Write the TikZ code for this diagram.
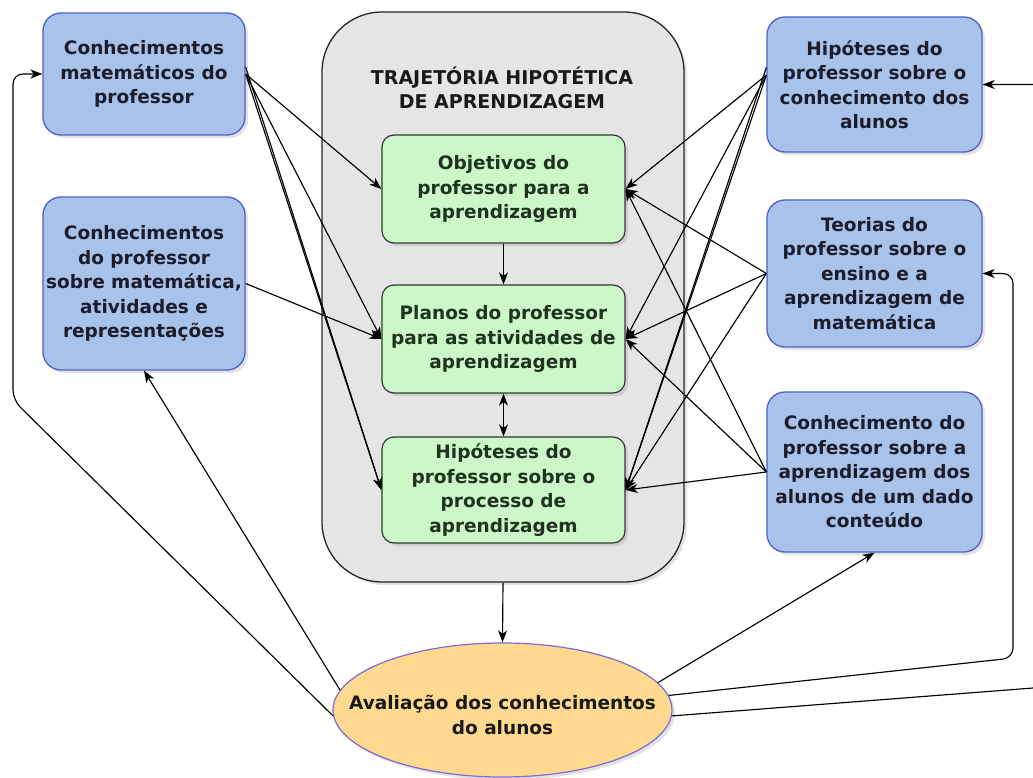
\documentclass[tikz,border=0pt]{standalone}
\usepackage{fontspec}
\setmainfont{DejaVu Sans}
\usetikzlibrary{arrows.meta,shapes.geometric,shadows,calc}
\definecolor{bluefill}{HTML}{A9C2EA}
\definecolor{bluedraw}{HTML}{4F5FCB}
\definecolor{bluetext}{HTML}{1C1C2C}
\definecolor{greenfill}{HTML}{CCF7C8}
\definecolor{greendraw}{HTML}{2E3A2E}
\definecolor{greentext}{HTML}{1F331F}
\definecolor{contfill}{HTML}{E5E5E5}
\definecolor{ellfill}{HTML}{FFD98F}
\definecolor{elldraw}{HTML}{7E6AD0}
\tikzset{ctip/.tip={Stealth[length=12pt,width=9pt,inset=3.5pt]}}
\begin{document}
\begin{tikzpicture}[x=1pt,y=-1pt,
  txt/.style={font=\fontsize{18.5}{24.5}\selectfont\bfseries, align=center, inner sep=0pt},
  shade/.style={drop shadow={shadow xshift=3pt,shadow yshift=-3pt,opacity=0.22}},
  bluebox/.style={txt, shade, draw=bluedraw, fill=bluefill, line width=1.3pt, rounded corners=18pt, text=bluetext},
  greenbox/.style={txt, shade, draw=greendraw, fill=greenfill, line width=1.2pt, rounded corners=12pt, text=greentext, minimum width=243, minimum height=108},
  contbox/.style={shade, draw=black!85, fill=contfill, line width=1.3pt, rounded corners=60pt, inner sep=0pt},
  ellbox/.style={shade, ellipse, inner sep=0pt, draw=elldraw, fill=ellfill, line width=1.2pt},
  elltext/.style={txt, text=black!90, yshift=-5pt},
  titletxt/.style={font=\fontsize{19}{23.5}\selectfont\bfseries, align=center, inner sep=0pt, text=black!90},
  conn/.style={draw=black, line width=1.15pt, -{ctip}},
]
\useasboundingbox (0,0) rectangle (1033,778);
\fill[white] (0,0) rectangle (1033,778);
\clip (0,0) rectangle (1033,778);

% container
\node[contbox, minimum width=362, minimum height=570] (cont) at (503,297) {};
\node[titletxt] (ttl) at (502,88) {TRAJETÓRIA HIPOTÉTICA\\DE APRENDIZAGEM};

% green boxes
\node[greenbox] (ob) at (503.5,189) {Objetivos do\\professor para a\\aprendizagem};
\node[greenbox] (pl) at (503.5,339) {Planos do professor\\para as atividades de\\aprendizagem};
\node[greenbox, minimum height=106] (hy) at (503.5,490) {Hipóteses do\\professor sobre o\\processo de\\aprendizagem};

% blue boxes left
\node[bluebox, minimum width=202, minimum height=122] (tl) at (144,74) {Conhecimentos\\matemáticos do\\professor};
\node[bluebox, minimum width=202, minimum height=173] (lm) at (144,283.5) {Conhecimentos\\do professor\\sobre matemática,\\atividades e\\representações};

% blue boxes right
\node[bluebox, minimum width=215, minimum height=135] (tr) at (874.5,84.5) {Hipóteses do\\professor sobre o\\conhecimento dos\\alunos};
\node[bluebox, minimum width=215, minimum height=147] (te) at (874.5,273.5) {Teorias do\\professor sobre o\\ensino e a\\aprendizagem de\\matemática};
\node[bluebox, minimum width=215, minimum height=160] (cn) at (874.5,472) {Conhecimento do\\professor sobre a\\aprendizagem dos\\alunos de um dado\\conteúdo};

% ellipse
\node[ellbox, minimum width=339, minimum height=134,
      label={[elltext]center:Avaliação dos conhecimentos\\do alunos}] (ell) at (502.5,710) {};

% left connectors
\draw[conn] (tl.east) -- (ob.west);
\draw[conn] (tl.east) -- (pl.west);
\draw[conn] (tl.east) -- (hy.west);
\draw[conn] (tl.4) -- (hy.west);
\draw[conn] (lm.east) -- (pl.west);

% right connectors
\draw[conn] (tr.175) -- (ob.east);
\draw[conn] (tr.175) -- (pl.east);
\draw[conn] (tr.175) -- (hy.east);
\draw[conn] (tr.171) -- (hy.east);
\draw[conn] (te.west) -- (ob.east);
\draw[conn] (te.west) -- (pl.east);
\draw[conn] (te.west) -- (hy.east);
\draw[conn] (cn.west) -- (ob.east);
\draw[conn] (cn.west) -- (pl.east);
\draw[conn] (cn.west) -- (hy.east);

% inner connectors
\draw[conn] (ob.south) -- (pl.north);
\draw[conn, {ctip}-{ctip}] (pl.south) -- (hy.north);
\draw[conn] (cont.south) -- (ell.north);

% feedback connectors
\coordinate (lc1) at (13,400);
\coordinate (lc2) at (13,74);
\draw[conn, rounded corners=10pt] (ell.182) -- (lc1) -- (lc2) -- (tl.west);
\draw[conn] (ell.173) -- (lm.south);
\draw[conn] (ell.10) -- (cn.south);
\coordinate (rc1) at (1013,658);
\coordinate (rc2) at (1013,273.5);
\draw[conn, rounded corners=10pt] (ell.5) -- (rc1) -- (rc2) -- (te.east);
\coordinate (rc3) at (1046,687);
\coordinate (rc4) at (1046,84.5);
\draw[conn, rounded corners=10pt] (ell.-2) -- (rc3) -- (rc4) -- (tr.east);
\end{tikzpicture}
\end{document}
